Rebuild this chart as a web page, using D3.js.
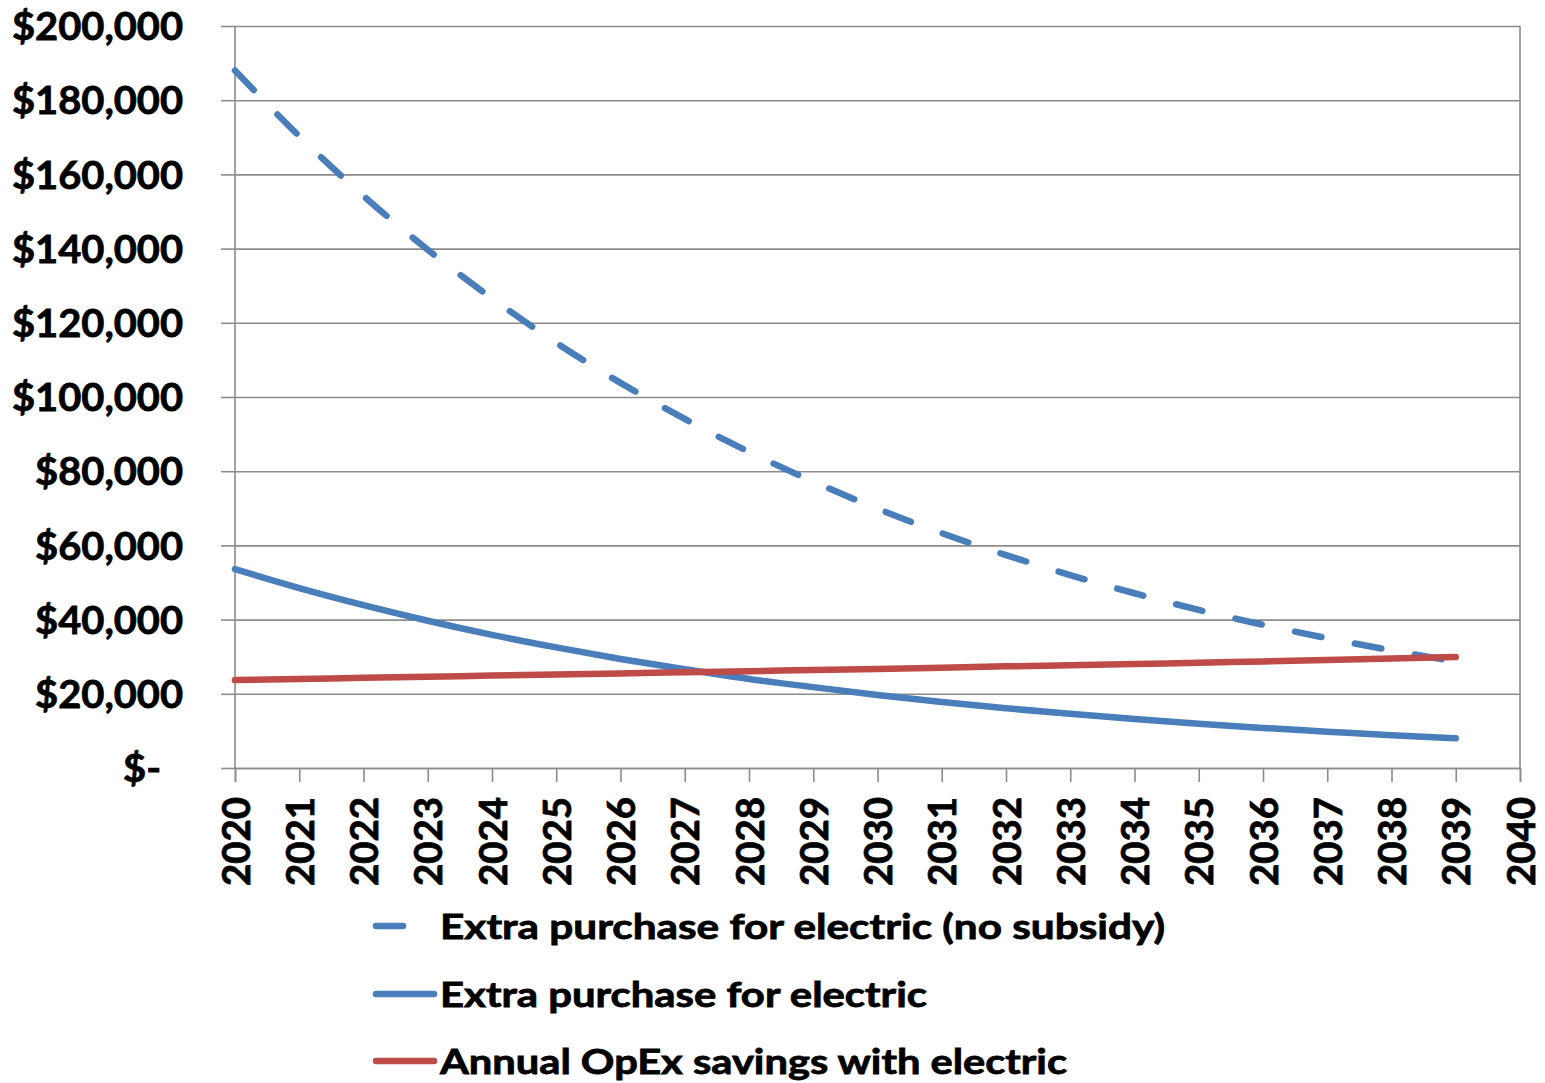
<!DOCTYPE html>
<html>
<head>
<meta charset="utf-8">
<script src="https://cdnjs.cloudflare.com/ajax/libs/d3/7.8.5/d3.min.js"></script>
<style>
  html, body { margin: 0; padding: 0; background: #fff; }
  svg { display: block; }
  text { font-family: "Lato", "Open Sans", sans-serif; font-weight: 700; fill: #000;
         stroke: #000; stroke-width: 0.8px; }
</style>
</head>
<body>
<svg id="chart" width="1545" height="1083"></svg>
<script>
// Years on the horizontal axis
const years = [2020, 2021, 2022, 2023, 2024, 2025, 2026, 2027, 2028, 2029,
               2030, 2031, 2032, 2033, 2034, 2035, 2036, 2037, 2038, 2039];
const xTickYears = [2020, 2021, 2022, 2023, 2024, 2025, 2026, 2027, 2028, 2029,
                    2030, 2031, 2032, 2033, 2034, 2035, 2036, 2037, 2038, 2039, 2040];

// Extra purchase cost for an electric vehicle, without subsidy ($)
const extraNoSubsidy = [188000, 170300, 154200, 139700, 126600, 114600, 103800, 94100, 85200, 77200,
                        69900, 63300, 57400, 52000, 47100, 42600, 38600, 35000, 31700, 28700];
// Extra purchase cost for an electric vehicle ($)
const extraPurchase = [53600, 48500, 43900, 39700, 35900, 32500, 29400, 26600, 24000, 21800,
                       19700, 17800, 16100, 14600, 13200, 11900, 10800, 9800, 8800, 8000];
// Annual operating-expense savings with electric ($)
const opexSavings = [23700, 24000, 24300, 24600, 24900, 25200, 25500, 25800, 26100, 26400,
                     26700, 27000, 27400, 27700, 28000, 28400, 28700, 29100, 29500, 29900];

// Value-axis ticks and their labels
const yTicks = [0, 20000, 40000, 60000, 80000, 100000, 120000, 140000, 160000, 180000, 200000];
const yTickLabels = ["$-", "$20,000", "$40,000", "$60,000", "$80,000", "$100,000",
                     "$120,000", "$140,000", "$160,000", "$180,000", "$200,000"];

const seriesNames = ["Extra purchase for electric (no subsidy)",
                     "Extra purchase for electric",
                     "Annual OpEx savings with electric"];

const BLUE = "#4a7ebb", RED = "#be4b48", GRID = "#8c8c8c";

const svg = d3.select("#chart");
svg.append("rect").attr("width", 1545).attr("height", 1083).attr("fill", "#fff");

const plot = { left: 235, right: 1520, top: 26, bottom: 768 };
const x = d3.scaleLinear().domain([2020, 2040]).range([plot.left, plot.right]);
const y = d3.scaleLinear().domain([0, 200000]).range([plot.bottom, plot.top]);

// Horizontal gridlines (with left tick marks) via axis
const yAxis = d3.axisLeft(y)
  .tickValues(yTicks)
  .tickSize(14)
  .tickFormat((d, i) => yTickLabels[i]);
const yg = svg.append("g").attr("transform", `translate(${plot.left},0)`).call(yAxis);
yg.select(".domain").remove();
yg.selectAll(".tick line").attr("stroke", GRID).attr("stroke-width", 1.6);
yg.selectAll(".tick").append("line")
  .attr("x1", 0).attr("x2", plot.right - plot.left)
  .attr("stroke", GRID).attr("stroke-width", 1.6);
yg.selectAll(".tick text")
  .attr("dy", "0.35em")
  .style("font-size", "39px");

// Vertical axis line and right border
svg.append("line").attr("x1", plot.left).attr("x2", plot.left)
  .attr("y1", plot.top).attr("y2", plot.bottom)
  .attr("stroke", GRID).attr("stroke-width", 1.6);
svg.append("line").attr("x1", plot.right).attr("x2", plot.right)
  .attr("y1", plot.top).attr("y2", plot.bottom)
  .attr("stroke", GRID).attr("stroke-width", 1.6);

// Category axis with rotated year labels
const xAxis = d3.axisBottom(x).tickValues(xTickYears).tickSize(14).tickFormat(d3.format("d"));
const xg = svg.append("g").attr("transform", `translate(0,${plot.bottom})`).call(xAxis);
xg.select(".domain").attr("stroke", GRID).attr("stroke-width", 1.6);
xg.selectAll(".tick line").attr("stroke", GRID).attr("stroke-width", 1.6);
xg.selectAll(".tick text")
  .attr("transform", "translate(0,29) rotate(-90)")
  .attr("x", 0).attr("y", 0).attr("dy", "0.36em")
  .attr("text-anchor", "end")
  .style("font-size", "39px");

// Fit label widths to the chart's tight bold typeface
const yLabelScale = 171 / yg.selectAll(".tick text").filter(d => d === 200000).node().getComputedTextLength();
yg.selectAll(".tick text").each(function () {
  const w = this.getComputedTextLength();
  d3.select(this).attr("textLength", w * yLabelScale).attr("lengthAdjust", "spacingAndGlyphs");
});
// keep right edges aligned after rescaling; the zero label sits further left
yg.selectAll(".tick text").attr("text-anchor", "end").attr("x", d => d === 0 ? -74 : -52);
xg.selectAll(".tick text").each(function () {
  d3.select(this).attr("textLength", 89).attr("lengthAdjust", "spacingAndGlyphs");
});

// Series lines
const line = d3.line().x(d => x(d[0])).y(d => y(d[1])).curve(d3.curveMonotoneX);
const series = [
  { values: extraNoSubsidy, color: BLUE, dash: "27,34" },
  { values: extraPurchase, color: BLUE, dash: null },
  { values: opexSavings, color: RED, dash: null }
];
series.forEach(s => {
  svg.append("path")
    .datum(years.map((yr, i) => [yr, s.values[i]]))
    .attr("d", line)
    .attr("fill", "none")
    .attr("stroke", s.color)
    .attr("stroke-width", 6.5)
    .attr("stroke-linecap", "round")
    .attr("stroke-linejoin", "round")
    .attr("stroke-dasharray", s.dash);
});

// Legend
const legendRows = [926, 994, 1061];
const legendWidths = [725, 487, 627];
const lg = svg.append("g");
series.forEach((s, i) => {
  const row = lg.append("g").attr("transform", `translate(0,${legendRows[i]})`);
  row.append("line")
    .attr("x1", 376).attr("x2", 434)
    .attr("y1", 0).attr("y2", 0)
    .attr("stroke", s.color).attr("stroke-width", 6.5)
    .attr("stroke-linecap", "round")
    .attr("stroke-dasharray", s.dash);
  row.append("text")
    .attr("x", 440).attr("y", 0).attr("dy", "0.36em")
    .style("font-size", "35px")
    .attr("textLength", legendWidths[i])
    .attr("lengthAdjust", "spacingAndGlyphs")
    .text(seriesNames[i]);
});
</script>
</body>
</html>
